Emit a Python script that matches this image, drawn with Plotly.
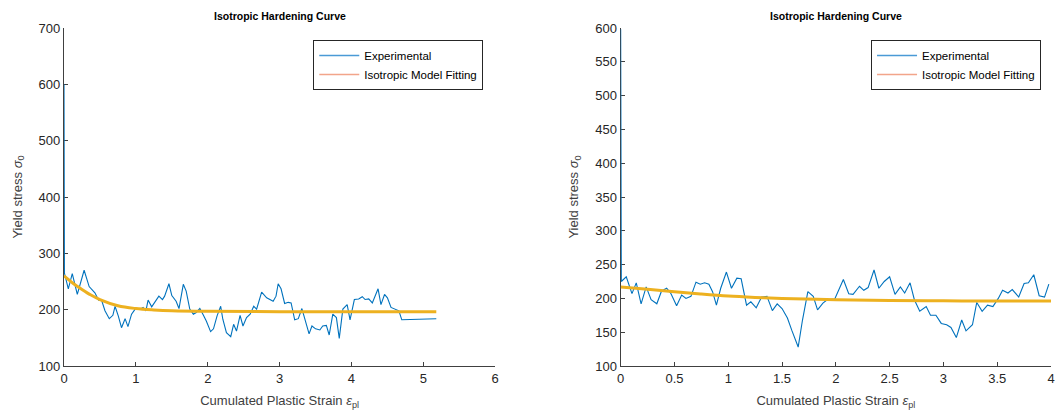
import plotly.graph_objects as go

# ---------------- data ----------------
# Left panel: experimental
left_x = [0, 0.006, 0.06, 0.115, 0.185, 0.28, 0.35, 0.43, 0.48, 0.52, 0.57, 0.63, 0.68, 0.71, 0.755,
          0.80, 0.85, 0.89, 0.94, 0.99, 1.06, 1.10, 1.14, 1.17, 1.22, 1.26, 1.32, 1.37, 1.40, 1.46,
          1.50, 1.56, 1.60, 1.66, 1.70, 1.75, 1.80, 1.84, 1.89, 1.94, 1.98, 2.04, 2.08, 2.13, 2.18,
          2.21, 2.26, 2.32, 2.36, 2.40, 2.45, 2.49, 2.54, 2.59, 2.64, 2.68, 2.75, 2.82, 2.91, 2.95,
          2.98, 3.02, 3.07, 3.12, 3.16, 3.21, 3.26, 3.31, 3.36, 3.41, 3.45, 3.50, 3.56, 3.60, 3.65,
          3.69, 3.74, 3.79, 3.83, 3.88, 3.94, 3.98, 4.04, 4.10, 4.15, 4.19, 4.24, 4.29, 4.37, 4.41,
          4.46, 4.50, 4.55, 4.62, 4.66, 4.70, 5.18]
left_y = [600, 265, 237, 264, 227, 270, 241, 230, 217, 218, 198, 184, 190, 206, 189,
          168, 184, 170, 192, 201, 201, 204, 198, 217, 205, 212, 224, 218, 224, 246,
          225, 215, 202, 245, 233, 201, 192, 195, 202, 190, 180, 161, 166, 189, 206,
          183, 159, 152, 174, 162, 190, 171, 186, 192, 206, 201, 231, 221, 215, 224,
          246, 237, 211, 213, 212, 182, 184, 202, 178, 157, 171, 166, 164, 171, 172,
          155, 192, 186, 149, 201, 209, 182, 218, 219, 223, 218, 219, 212, 237, 209,
          227, 221, 204, 201, 198, 182, 184]
# Left panel: isotropic model fit
left_fit_x = [0, 0.125, 0.25, 0.375, 0.5, 0.75, 1.0, 1.25, 1.5, 2.0, 3.0, 4.0, 5.18]
left_fit_y = [260, 247, 236, 226, 218, 207, 202, 199.5, 198, 197, 196.5, 196.5, 196.5]

# Right panel: experimental
right_x = [0, 0.006, 0.052, 0.105, 0.145, 0.19, 0.237, 0.283, 0.336, 0.38, 0.428, 0.468, 0.52,
           0.567, 0.607, 0.653, 0.70, 0.74, 0.78, 0.82, 0.854, 0.89, 0.93, 0.983, 1.03, 1.08,
           1.12, 1.17, 1.21, 1.26, 1.31, 1.36, 1.41, 1.455, 1.50, 1.55, 1.59, 1.65, 1.69, 1.74,
           1.79, 1.83, 1.88, 1.92, 1.99, 2.07, 2.12, 2.16, 2.22, 2.26, 2.30, 2.355, 2.40, 2.45,
           2.50, 2.55, 2.60, 2.64, 2.69, 2.73, 2.78, 2.84, 2.88, 2.93, 2.98, 3.03, 3.07, 3.12,
           3.17, 3.21, 3.27, 3.31, 3.36, 3.41, 3.46, 3.51, 3.55, 3.60, 3.64, 3.70, 3.75, 3.79,
           3.84, 3.89, 3.94, 3.98]
right_y = [598, 225, 232, 207, 223, 192, 217, 198, 192, 211, 215, 207, 189,
           205, 200, 203, 224, 221, 223, 221, 210, 190, 215, 239, 215, 230,
           229, 190, 195, 186, 202, 203, 182, 192, 185, 171, 153, 128, 168, 210,
           203, 183, 193, 198, 199, 228, 207, 206, 218, 212, 216, 242, 215, 225,
           232, 206, 217, 208, 223, 198, 181, 188, 175, 175, 163, 161, 157, 142,
           168, 152, 161, 194, 181, 190, 188, 200, 212, 208, 213, 202, 222, 223,
           235, 204, 202, 221]
# Right panel: isotropic model fit
right_fit_x = [0, 0.25, 0.5, 0.75, 1.0, 1.25, 1.5, 2.0, 2.5, 3.0, 3.5, 4.0]
right_fit_y = [217, 213.5, 210, 206.5, 203.5, 201.5, 200, 198, 197, 196.5, 196, 196]

titles = ["Isotropic Hardening Curve", "Isotropic Hardening Curve"]
legend_names = ["Experimental", "Isotropic Model Fitting"]
left_xticks = [0, 1, 2, 3, 4, 5, 6]
left_yticks = [100, 200, 300, 400, 500, 600, 700]
right_xticks = [0, 0.5, 1, 1.5, 2, 2.5, 3, 3.5, 4]
right_yticks = [100, 150, 200, 250, 300, 350, 400, 450, 500, 550, 600]

# ---------------- styles ----------------
BLUE = "#0072BD"
LEG_BLUE = "#4A9AD6"
FIT = "#EDB120"
LEG_FIT = "#F2A58A"
AX = "#404040"
FONT = "Liberation Sans"

fig = go.Figure()

def add_panel(xs, ys, fx, fy, xa, ya, leg):
    fig.add_trace(go.Scatter(x=xs, y=ys, mode="lines", line=dict(color=BLUE, width=1.1),
                             name=legend_names[0], xaxis=xa, yaxis=ya, showlegend=False))
    fig.add_trace(go.Scatter(x=fx, y=fy, mode="lines", line=dict(color=FIT, width=3, shape="spline"),
                             name=legend_names[1], xaxis=xa, yaxis=ya, showlegend=False))
    # legend entries (thin lines as drawn in the reference legend)
    fig.add_trace(go.Scatter(x=[None], y=[None], mode="lines", line=dict(color=LEG_BLUE, width=1.3),
                             name=legend_names[0], xaxis=xa, yaxis=ya, legend=leg, showlegend=True))
    fig.add_trace(go.Scatter(x=[None], y=[None], mode="lines", line=dict(color=LEG_FIT, width=1.5),
                             name=legend_names[1], xaxis=xa, yaxis=ya, legend=leg, showlegend=True))

add_panel(left_x, left_y, left_fit_x, left_fit_y, "x", "y", "legend")
add_panel(right_x, right_y, right_fit_x, right_fit_y, "x2", "y2", "legend2")

axis_common = dict(showline=True, linecolor=AX, linewidth=1.2, ticks="inside", ticklen=4,
                   tickcolor=AX, showgrid=False, zeroline=False, layer="below traces",
                   tickfont=dict(family=FONT, size=13, color="#262626"), mirror=False)

ytitle = dict(text="Yield stress <i>σ</i><sub>0</sub>", font=dict(family=FONT, size=13, color=AX), standoff=13)
xtitle = dict(text="Cumulated Plastic Strain <i>ε</i><sub>pl</sub>", font=dict(family=FONT, size=13, color=AX), standoff=11)

LD = [0, 0.4369]
RD = [0.564, 1.0]

legend_common = dict(y=0.9645, xanchor="right", yanchor="top", bgcolor="white",
                     bordercolor="#262626", borderwidth=1,
                     font=dict(family=FONT, size=11.5, color="#000000"),
                     tracegroupgap=0, itemwidth=40)

fig.update_layout(
    width=1062, height=415,
    margin=dict(l=64, r=7, t=28, b=49),
    paper_bgcolor="white", plot_bgcolor="white",
    font=dict(family=FONT, color=AX),
    xaxis=dict(domain=LD, range=[0, 6], tickvals=left_xticks, anchor="y", title=xtitle, **axis_common),
    yaxis=dict(domain=[0, 1], range=[100, 700], tickvals=left_yticks, anchor="x", title=ytitle, **axis_common),
    xaxis2=dict(domain=RD, range=[0, 4], tickvals=right_xticks, anchor="y2", title=xtitle, **axis_common),
    yaxis2=dict(domain=[0, 1], range=[100, 600], tickvals=right_yticks, anchor="x2", title=ytitle, **axis_common),
    legend=dict(x=0.4248, **legend_common),
    legend2=dict(x=0.9899, **legend_common),
    annotations=[
        dict(text="<b>" + titles[0] + "</b>", x=(LD[0] + LD[1]) / 2, y=1.0, xref="paper", yref="paper",
             xanchor="center", yanchor="bottom", yshift=4, showarrow=False,
             font=dict(family=FONT, size=10.5, color="#000000")),
        dict(text="<b>" + titles[1] + "</b>", x=(RD[0] + RD[1]) / 2, y=1.0, xref="paper", yref="paper",
             xanchor="center", yanchor="bottom", yshift=4, showarrow=False,
             font=dict(family=FONT, size=10.5, color="#000000")),
    ],
)

fig.write_html("out.html", config={"displayModeBar": False},
               post_script="document.body.style.margin='0';")
